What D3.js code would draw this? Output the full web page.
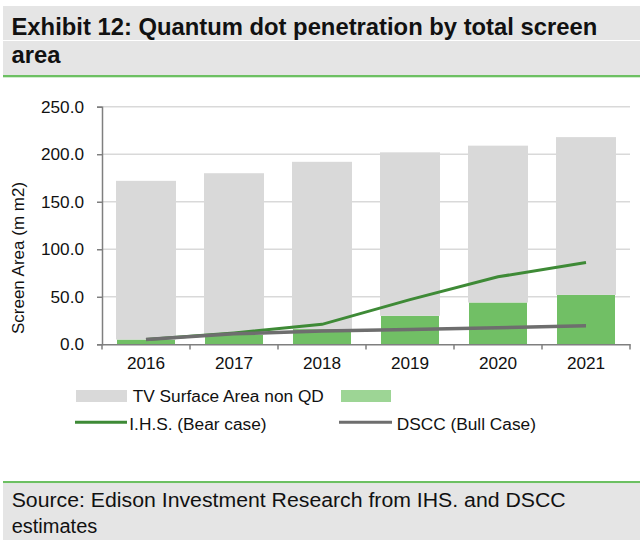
<!DOCTYPE html>
<html>
<head>
<meta charset="utf-8">
<script src="https://cdn.jsdelivr.net/npm/d3@7"></script>
<style>
  html, body { margin: 0; padding: 0; background: #fff; }
  svg { display: block; font-family: "Liberation Sans", Arial, sans-serif; }
</style>
</head>
<body>
<svg id="chart" width="640" height="540"></svg>
<script>
var years = ["2016", "2017", "2018", "2019", "2020", "2021"];
var qdArea = [5, 10, 16, 30, 44, 52];          // green part of bars
var nonQdArea = [167, 170, 176, 172, 165, 166]; // grey part on top
var ihsBear = [5, 12, 21, 47, 71, 86];
var dsccBull = [5, 11, 14, 15.5, 17.5, 19.5];
var yTicks = [0, 50, 100, 150, 200, 250];

var svg = d3.select("#chart");

// header band
svg.append("rect").attr("x", 3).attr("y", 6).attr("width", 637).attr("height", 69).attr("fill", "#e5e5e5");
svg.append("rect").attr("x", 3).attr("y", 40).attr("width", 637).attr("height", 1).attr("fill", "#fff");
svg.append("rect").attr("x", 3).attr("y", 75).attr("width", 637).attr("height", 2.3).attr("fill", "#6cc062");
svg.append("text").attr("x", 11.5).attr("y", 35)
    .attr("font-size", "23.8px").attr("font-weight", "bold").attr("fill", "#111")
    .text("Exhibit 12: Quantum dot penetration by total screen");
svg.append("text").attr("x", 11.5).attr("y", 62.7)
    .attr("font-size", "23.8px").attr("font-weight", "bold").attr("fill", "#111")
    .text("area");

// scales
var x = d3.scaleBand().domain(years).range([102, 630]).paddingInner(0.318).paddingOuter(0.159);
var xStep = d3.scaleBand().domain(years).range([102, 630]);
var y = d3.scaleLinear().domain([0, 250]).range([344.3, 106.7]);

// gridlines
svg.append("g").selectAll("line").data(yTicks.slice(1)).enter().append("line")
    .attr("x1", 102).attr("x2", 630)
    .attr("y1", d => y(d)).attr("y2", d => y(d))
    .attr("stroke", "#d9d9d9").attr("stroke-width", 1.5);

// stacked bars
var rows = years.map((yr, i) => ({ year: yr, qd: qdArea[i], nonqd: nonQdArea[i] }));
var stack = d3.stack().keys(["qd", "nonqd"])(rows);
var barColors = { qd: "#71bf65", nonqd: "#d9d9d9" };

svg.append("g").selectAll("g").data(stack).enter().append("g")
    .attr("fill", s => barColors[s.key])
    .selectAll("rect").data(s => s.map(v => ({ key: s.key, v: v }))).enter().append("rect")
    .attr("x", d => x(d.v.data.year) + (d.key === "qd" ? 1 : 0))
    .attr("width", d => x.bandwidth() - (d.key === "qd" ? 2 : 0))
    .attr("y", d => y(d.v[1]))
    .attr("height", d => y(d.v[0]) - y(d.v[1]));

// lines
var line = d3.line()
    .x((d, i) => x(years[i]) + x.bandwidth() / 2)
    .y(d => y(d));

svg.append("path").datum(ihsBear).attr("d", line)
    .attr("fill", "none").attr("stroke", "#3e8a36").attr("stroke-width", 3);
svg.append("path").datum(dsccBull).attr("d", line)
    .attr("fill", "none").attr("stroke", "#6e6e6e").attr("stroke-width", 3.5);

// y axis
var yAxis = svg.append("g").attr("transform", "translate(102,0)")
    .call(d3.axisLeft(y).tickValues(yTicks).tickFormat(d3.format(".1f")).tickSize(5).tickPadding(13));
yAxis.select(".domain").attr("stroke", "#7f7f7f").attr("stroke-width", 1.5);
yAxis.selectAll(".tick line").attr("stroke", "#7f7f7f").attr("stroke-width", 1.5);
yAxis.selectAll("text").attr("font-size", "17.2px").attr("fill", "#111")
    .attr("font-family", "Liberation Sans, Arial, sans-serif");

// x axis
var xAxis = svg.append("g").attr("transform", "translate(0,344.3)")
    .call(d3.axisBottom(xStep).tickSize(0).tickPadding(12.5));
xAxis.select(".domain").attr("stroke", "#7f7f7f").attr("stroke-width", 1.5);
xAxis.selectAll("text").attr("font-size", "17.2px").attr("fill", "#111")
    .attr("font-family", "Liberation Sans, Arial, sans-serif");
// tick marks sit on the band boundaries
svg.append("g").selectAll("line").data(years.concat(["end"])).enter().append("line")
    .attr("x1", (d, i) => 102 + i * xStep.step()).attr("x2", (d, i) => 102 + i * xStep.step())
    .attr("y1", 344.3).attr("y2", 349.5)
    .attr("stroke", "#7f7f7f").attr("stroke-width", 1.5);

// y title
svg.append("text")
    .attr("transform", "translate(24,258) rotate(-90)")
    .attr("text-anchor", "middle").attr("font-size", "17px").attr("fill", "#111")
    .text("Screen Area (m m2)");

// legend
var lg = svg.append("g").attr("font-size", "17.3px").attr("fill", "#111");
lg.append("rect").attr("x", 76).attr("y", 390).attr("width", 51).attr("height", 12).attr("fill", "#d9d9d9");
lg.append("text").attr("x", 132.7).attr("y", 402.3).text("TV Surface Area non QD");
lg.append("rect").attr("x", 341).attr("y", 390).attr("width", 50).attr("height", 12).attr("fill", "#9dd595");
lg.append("line").attr("x1", 75).attr("x2", 127).attr("y1", 422.3).attr("y2", 422.3)
    .attr("stroke", "#3e8a36").attr("stroke-width", 3);
lg.append("text").attr("x", 129.3).attr("y", 429.5).text("I.H.S. (Bear case)");
lg.append("line").attr("x1", 339).attr("x2", 392).attr("y1", 422.3).attr("y2", 422.3)
    .attr("stroke", "#6e6e6e").attr("stroke-width", 3);
lg.append("text").attr("x", 396.7).attr("y", 429.5).text("DSCC (Bull Case)");

// footer band
svg.append("rect").attr("x", 3).attr("y", 481).attr("width", 637).attr("height", 2.3).attr("fill", "#6cc062");
svg.append("rect").attr("x", 3).attr("y", 483.3).attr("width", 637).attr("height", 57).attr("fill", "#e5e5e5");
svg.append("text").attr("x", 11.7).attr("y", 507.3).attr("font-size", "20px").attr("fill", "#111")
    .attr("textLength", 554).attr("lengthAdjust", "spacingAndGlyphs")
    .text("Source: Edison Investment Research from IHS. and DSCC");
svg.append("text").attr("x", 11.7).attr("y", 533.3).attr("font-size", "20px").attr("fill", "#111")
    .text("estimates");
</script>
</body>
</html>
